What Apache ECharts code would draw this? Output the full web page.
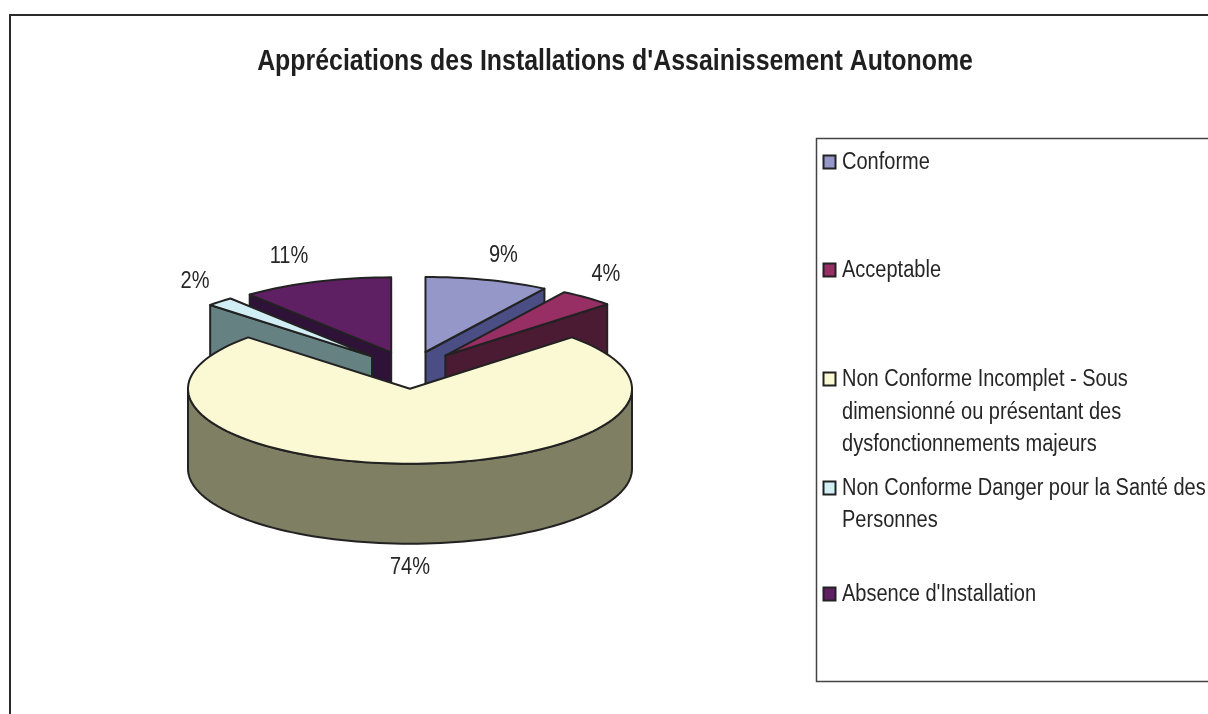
<!DOCTYPE html>
<html>
<head>
<meta charset="utf-8">
<title>Appréciations des Installations d'Assainissement Autonome</title>
<script src="https://cdn.jsdelivr.net/npm/echarts@6/dist/echarts.min.js"></script>
<style>
  html, body { margin: 0; padding: 0; background: #fff; }
  #chart { width: 1208px; height: 714px; }
</style>
</head>
<body>
<div id="chart"></div>
<script>
const chartTitle = "Appréciations des Installations d'Assainissement Autonome";
const categories = [
  "Conforme",
  "Acceptable",
  "Non Conforme Incomplet - Sous dimensionné ou présentant des dysfonctionnements majeurs",
  "Non Conforme Danger pour la Santé des Personnes",
  "Absence d'Installation",
];
const values = [9, 4, 74, 2, 11];
const valueLabels = ["9%", "4%", "74%", "2%", "11%"];

const legendLines = [
  ["Conforme"],
  ["Acceptable"],
  ["Non Conforme Incomplet - Sous", "dimensionné ou présentant des", "dysfonctionnements majeurs"],
  ["Non Conforme Danger pour la Santé des", "Personnes"],
  ["Absence d'Installation"],
];

const topColors = ["#9697c9", "#972f65", "#fbf9d3", "#d2eef5", "#5f2063"];
const sideColors = ["#4b4e84", "#4a1b33", "#7f7f64", "#668182", "#2f1237"];
const drawRank = [0, 1, 4, 3, 2]; // back slices first, the big one last
const labelNudge = [[16, -24], [19, -23], [0, 24], [-25, -20], [-27, -25]];

const LINE = "#222222";
const TEXT = "#262626";
const FONT = '"Liberation Sans", Arial, sans-serif';
const SQUEEZE = 0.87; // the text of the original is a bit condensed
const TITLE_SQUEEZE = 0.83;

// pie geometry
const CX = 410, CY = 370, RX = 222, RY = 75, DEPTH = 80, EXPLODE = 0.25;

const total = values.reduce((a, b) => a + b, 0);
const rad = (d) => (d * Math.PI) / 180;
// angles are clockwise from north, like the original
const onRim = (c, deg, dy = 0) => [c[0] + RX * Math.sin(rad(deg)), c[1] - RY * Math.cos(rad(deg)) + dy];

function arc(c, from, to, dy = 0) {
  const pts = [];
  const n = Math.max(2, Math.ceil((to - from) / 2));
  for (let i = 0; i <= n; i++) pts.push(onRim(c, from + ((to - from) * i) / n, dy));
  return pts;
}

function renderSlice(params, api) {
  const i = params.dataIndex;
  const before = values.slice(0, i).reduce((a, b) => a + b, 0);
  const start = (before / total) * 360;
  const end = start + (api.value(0) / total) * 360;
  const mid = (start + end) / 2;
  const apex = [
    CX + EXPLODE * RX * Math.sin(rad(mid)),
    CY - EXPLODE * RY * Math.cos(rad(mid)),
  ];
  const stroke = { stroke: LINE, lineWidth: 2, lineJoin: "round" };
  const z2 = drawRank[i] * 10;
  const children = [];
  const face = (pts, fill) =>
    children.push({ type: "polygon", z2, shape: { points: pts }, style: { fill, ...stroke } });

  // flat radial faces that look towards the viewer
  [[start, -1], [end, 1]].forEach(([deg, side]) => {
    if (Math.sin(rad(deg)) * side > 0.01) {
      const p = onRim(apex, deg);
      face([apex, p, [p[0], p[1] + DEPTH], [apex[0], apex[1] + DEPTH]], sideColors[i]);
    }
  });
  // outer wall, front half only
  const wallFrom = Math.max(start, 90), wallTo = Math.min(end, 270);
  if (wallTo > wallFrom) {
    face(arc(apex, wallFrom, wallTo).concat(arc(apex, wallFrom, wallTo, DEPTH).reverse()), sideColors[i]);
  }
  // top
  face([apex].concat(arc(apex, start, end)), topColors[i]);

  // percentage label
  const rim = onRim(apex, mid, wallTo > wallFrom ? DEPTH : 0);
  children.push({
    type: "text",
    z2: 100,
    x: rim[0] + labelNudge[i][0],
    y: rim[1] + labelNudge[i][1],
    scaleX: SQUEEZE,
    style: {
      text: valueLabels[i],
      font: "23px " + FONT,
      fill: TEXT,
      align: "center",
      verticalAlign: "middle",
    },
  });
  return { type: "group", children };
}

// legend box, hand-laid because of the fixed row pitch with wrapped text
const legendElements = [];
const rowY = [163, 271, 380, 489, 595];
const linePitch = [0, 33, 65];
categories.forEach((name, i) => {
  legendElements.push({
    type: "rect",
    z: 3,
    shape: { x: 823.5, y: rowY[i] - 7.5, width: 12, height: 13 },
    style: { fill: topColors[i], stroke: LINE, lineWidth: 2 },
  });
  legendLines[i].forEach((line, k) => {
    legendElements.push({
      type: "text",
      z: 3,
      x: 842,
      y: rowY[i] + (legendLines[i].length === 2 ? k * 32 : linePitch[k]),
      scaleX: SQUEEZE,
      style: { text: line, font: "23px " + FONT, fill: TEXT, align: "left", verticalAlign: "middle" },
    });
  });
});

const myChart = echarts.init(document.getElementById("chart"), null, { renderer: "canvas" });
myChart.setOption({
  animation: false,
  backgroundColor: "#ffffff",
  graphic: [
    // outer frame runs off the right and bottom of the page
    { type: "polyline", z: 1, shape: { points: [[10, 720], [10, 15], [1215, 15]] }, style: { fill: null, stroke: "#2b2b2b", lineWidth: 2 } },
    { type: "polyline", z: 1, shape: { points: [[1215, 138.5], [816.5, 138.5], [816.5, 681.5], [1215, 681.5]] }, style: { fill: null, stroke: "#444444", lineWidth: 1.5 } },
    {
      type: "text",
      z: 3,
      x: 615,
      y: 62,
      scaleX: TITLE_SQUEEZE,
      style: { text: chartTitle, font: "bold 30px " + FONT, fill: "#1f1f1f", align: "center", verticalAlign: "middle" },
    },
    ...legendElements,
  ],
  series: [
    {
      type: "custom",
      coordinateSystem: "none",
      renderItem: renderSlice,
      data: values.map((v, i) => ({ name: categories[i], value: [v] })),
    },
  ],
});
</script>
</body>
</html>
